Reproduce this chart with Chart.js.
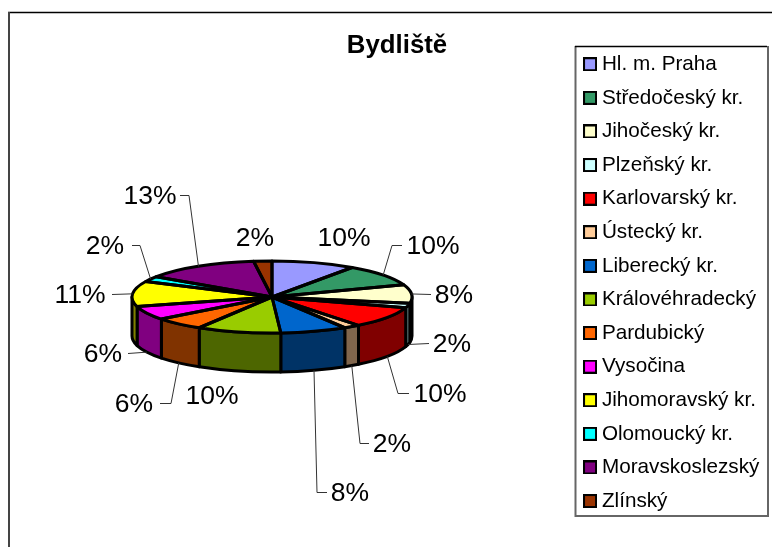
<!DOCTYPE html>
<html>
<head>
<meta charset="utf-8">
<title>Bydliště</title>
<script src="https://cdn.jsdelivr.net/npm/chart.js@4"></script>
<style>
    body { margin: 0; background: #fff; }
    canvas { display: block; }
</style>
</head>
<body>
<canvas id="bydliste" width="772" height="547"></canvas>
<script>
// Data
const categories = ['Hl. m. Praha', 'Středočeský kr.', 'Jihočeský kr.', 'Plzeňský kr.', 'Karlovarský kr.', 'Ústecký kr.', 'Liberecký kr.', 'Královéhradecký', 'Pardubický', 'Vysočina', 'Jihomoravský kr.', 'Olomoucký kr.', 'Moravskoslezský', 'Zlínský'];
const shares = [9.7, 9.8, 8.3, 2.0, 9.6, 1.9, 7.7, 9.7, 5.8, 6.2, 11.4, 2.4, 13.4, 2.1];
const sliceColors = ['#9999ff', '#339966', '#ffffcc', '#ccffff', '#ff0000', '#ffcc99', '#0066cc', '#99cc00', '#ff6600', '#ff00ff', '#ffff00', '#00ffff', '#800080', '#993300'];

// Where the percent labels sit, and how their leader lines bend (null = no leader / no bend)
const labelX = [344, 433, 454, 452, 440, 392, 350, 212, 134, 103, 80, 105, 150, 255];
const labelY = [237, 245, 294, 343, 393, 443, 492, 395, 403, 353, 294, 245, 195, 237];
const elbowX = [null, 392, null, null, 398, 360, 317, null, 171, null, null, 140, 189, null];
const stubX = [null, 402, 431, 429, 409, 369, 327, null, 160, 128, 112, 132, 180, null];

const FONT = '"Liberation Sans", Arial, sans-serif';
const SQUASH = 36 / 140;
const DEPTH = 39;
const EDGE = 3;

function darker(hex) {
    const n = parseInt(hex.slice(1), 16);
    const half = (s) => Math.round(((n >> s) & 255) / 2);
    return 'rgb(' + half(16) + ',' + half(8) + ',' + half(0) + ')';
}

// legend swatch: wider than the legend's box slot so the text can sit close to it
function swatch(color) {
    const c = document.createElement('canvas');
    c.width = 14;
    c.height = 14;
    const g = c.getContext('2d');
    g.fillStyle = '#000';
    g.fillRect(0, 0, 14, 14);
    g.fillStyle = color;
    g.fillRect(2, 2, 10, 10);
    return c;
}

function slicePath(ctx, arc) {
    const ry = arc.outerRadius * SQUASH;
    ctx.beginPath();
    ctx.moveTo(arc.x, arc.y);
    ctx.ellipse(arc.x, arc.y, arc.outerRadius, ry, 0, arc.startAngle, arc.endAngle);
    ctx.closePath();
}

const pie3d = {
    id: 'pie3d',
    // the legend keeps its own place, the pie gets a fixed square left of it
    afterLayout(chart) {
        Object.assign(chart.chartArea, { left: 132, right: 412, top: 157, bottom: 437, width: 280, height: 280 });
    },
    beforeDatasetsDraw(chart) {
        const ctx = chart.ctx;
        const arcs = chart.getDatasetMeta(0).data;

        // sheet and legend frames
        ctx.save();
        ctx.strokeStyle = '#000';
        ctx.lineWidth = 1.5;
        ctx.beginPath();
        ctx.moveTo(8, 12.5);
        ctx.lineTo(772, 12.5);
        ctx.stroke();
        ctx.strokeStyle = '#444';
        ctx.lineWidth = 2;
        ctx.beginPath();
        ctx.moveTo(9, 12);
        ctx.lineTo(9, 547);
        ctx.stroke();
        ctx.strokeStyle = '#666';
        ctx.beginPath();
        ctx.moveTo(575.5, 46);
        ctx.lineTo(575.5, 516);
        ctx.lineTo(768, 516);
        ctx.lineTo(768, 46);
        ctx.stroke();
        ctx.strokeStyle = '#000';
        ctx.lineWidth = 1.5;
        ctx.beginPath();
        ctx.moveTo(575, 46.5);
        ctx.lineTo(767, 46.5);
        ctx.stroke();

        // outer wall of the slices on the front half
        ctx.strokeStyle = '#000';
        ctx.lineWidth = EDGE;
        ctx.lineJoin = 'round';
        arcs.forEach((arc, i) => {
            const a0 = Math.max(arc.startAngle, 0);
            const a1 = Math.min(arc.endAngle, Math.PI);
            if (a1 <= a0) return;
            const ry = arc.outerRadius * SQUASH;
            ctx.beginPath();
            ctx.ellipse(arc.x, arc.y, arc.outerRadius, ry, 0, a0, a1);
            ctx.ellipse(arc.x, arc.y + DEPTH, arc.outerRadius, ry, 0, a1, a0, true);
            ctx.closePath();
            ctx.fillStyle = darker(sliceColors[i]);
            ctx.fill();
            ctx.stroke();
        });
        ctx.restore();

        // the library draws the top face, flattened into an ellipse
        const first = arcs[0];
        ctx.save();
        ctx.translate(first.x, first.y);
        ctx.scale(1, SQUASH);
        ctx.translate(-first.x, -first.y);
    },
    afterDatasetsDraw(chart) {
        const ctx = chart.ctx;
        const arcs = chart.getDatasetMeta(0).data;
        const total = shares.reduce((a, b) => a + b, 0);
        ctx.restore();

        ctx.save();
        ctx.strokeStyle = '#000';
        ctx.lineWidth = EDGE;
        ctx.lineJoin = 'round';
        arcs.forEach((arc) => {
            slicePath(ctx, arc);
            ctx.stroke();
        });

        // leader lines start at the middle of each slice's rim
        ctx.strokeStyle = '#333';
        ctx.lineWidth = 1;
        arcs.forEach((arc, i) => {
            if (stubX[i] === null) return;
            const mid = (arc.startAngle + arc.endAngle) / 2;
            const sy = Math.sin(mid);
            const ax = arc.x + arc.outerRadius * Math.cos(mid);
            const ay = arc.y + arc.outerRadius * SQUASH * sy + (sy > 0.2 ? DEPTH : 0);
            ctx.beginPath();
            ctx.moveTo(ax, ay);
            if (elbowX[i] !== null) ctx.lineTo(elbowX[i], labelY[i] + 0.5);
            ctx.lineTo(stubX[i], labelY[i] + 0.5);
            ctx.stroke();
        });

        // percent labels
        ctx.fillStyle = '#000';
        ctx.textAlign = 'center';
        ctx.textBaseline = 'middle';
        ctx.font = '26.5px ' + FONT;
        arcs.forEach((arc, i) => {
            ctx.fillText(Math.round(shares[i] / total * 100) + '%', labelX[i], labelY[i] + 2);
        });

        ctx.font = 'bold 25.8px ' + FONT;
        ctx.fillText('Bydliště', 397, 46);
        ctx.restore();
    }
};

new Chart(document.getElementById('bydliste'), {
    type: 'pie',
    data: {
        labels: categories,
        datasets: [{
            data: shares,
            backgroundColor: sliceColors,
            borderWidth: 0
        }]
    },
    options: {
        responsive: false,
        animation: false,
        layout: { padding: { right: 2.6, top: 41 } },
        plugins: {
            tooltip: { enabled: false },
            legend: {
                position: 'right',
                align: 'start',
                labels: {
                    color: '#000',
                    font: { family: FONT, size: 20.7 },
                    usePointStyle: true,
                    pointStyleWidth: 3,
                    padding: 12.9,
                    generateLabels: () => categories.map((name, i) => ({
                        text: name,
                        fillStyle: sliceColors[i],
                        pointStyle: swatch(sliceColors[i]),
                        index: i
                    }))
                }
            }
        }
    },
    plugins: [pie3d]
});
</script>
</body>
</html>
